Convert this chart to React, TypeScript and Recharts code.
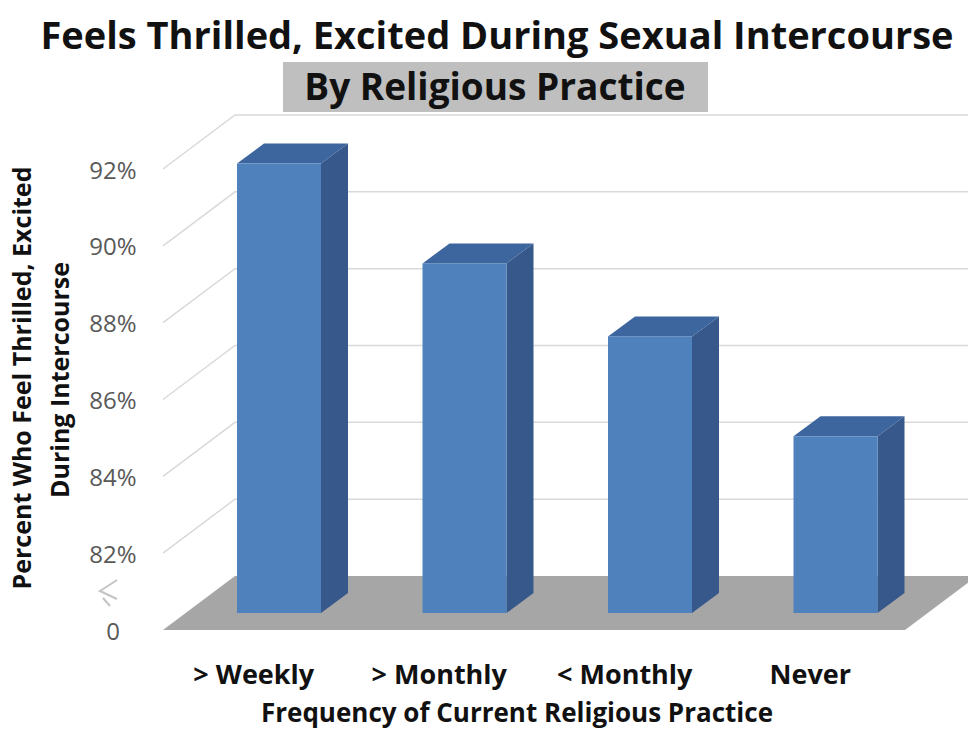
import { Bar, BarChart, CartesianGrid, XAxis, YAxis } from "recharts";

// Share of respondents who feel thrilled/excited, by frequency of religious practice
const categories = ["> Weekly", "> Monthly", "< Monthly", "Never"];
const thrilledPct = [91.7, 89.1, 87.2, 84.6];

// Axis starts at a broken baseline shown as "0"
const axisFloor = 80;
const yTicks = [80, 82, 84, 86, 88, 90, 92];

const data = categories.map((name, i) => ({ name, value: thrilledPct[i] }));

const FONT = "'Open Sans', 'DejaVu Sans', sans-serif";

// 3D projection: back wall offset, and where the bar front sits within the depth
const WALL_DX = 72;
const WALL_DY = 54;
const BAR_FRONT_DX = 23;
const BAR_FRONT_DY = 17;
const BAR_DX = 27;
const BAR_DY = 20;

const BAR_FRONT = "#4f81bd";
const BAR_SIDE = "#36588a";
const BAR_TOP = "#3d659e";

function Bar3D(props: any) {
  const { x, y, width, height } = props;
  if (width == null || height == null) return null;
  const fx = x + BAR_FRONT_DX;
  const fy = y - BAR_FRONT_DY;
  const r = fx + width;
  const b = fy + height;
  return (
    <g>
      <polygon
        points={`${r},${fy} ${r + BAR_DX},${fy - BAR_DY} ${r + BAR_DX},${b - BAR_DY} ${r},${b}`}
        fill={BAR_SIDE}
      />
      <polygon
        points={`${fx},${fy} ${fx + BAR_DX},${fy - BAR_DY} ${r + BAR_DX},${fy - BAR_DY} ${r},${fy}`}
        fill={BAR_TOP}
      />
      <rect x={fx} y={fy} width={width} height={height} fill={BAR_FRONT} />
    </g>
  );
}

// Horizontal grid: the baseline becomes the grey floor, the rest run up the side wall and along the back
function GridLine(props: any) {
  const { x1, x2, y1, y, height, index } = props;
  const isFloor = y != null && height != null && Math.abs(y1 - (y + height)) < 1;
  if (isFloor) {
    return (
      <polygon
        key={`floor-${index}`}
        points={`${x1},${y1} ${x2},${y1} ${x2 + WALL_DX},${y1 - WALL_DY} ${x1 + WALL_DX},${y1 - WALL_DY}`}
        fill="#a6a6a6"
      />
    );
  }
  return (
    <polyline
      key={`grid-${index}`}
      points={`${x1},${y1} ${x1 + WALL_DX},${y1 - WALL_DY} ${x2 + WALL_DX + 20},${y1 - WALL_DY}`}
      fill="none"
      stroke="#d9d9d9"
      strokeWidth={1.5}
    />
  );
}

function YTick(props: any) {
  const { x, y, payload } = props;
  const cx = x - 42;
  const isFloor = payload.value === axisFloor;
  return (
    <g>
      {isFloor && (
        <g stroke="#c4c4c4" strokeWidth={2} fill="none">
          <polyline points={`${cx + 4},${y - 50} ${cx - 13},${y - 39} ${cx + 4},${y - 31}`} />
          <line x1={cx - 10} y1={y - 32} x2={cx - 3} y2={y - 24} />
        </g>
      )}
      <text
        x={cx}
        y={y}
        textAnchor="middle"
        dominantBaseline="central"
        fontFamily={FONT}
        fontSize={24}
        fill="#595959"
      >
        {isFloor ? "0" : `${payload.value}%`}
      </text>
    </g>
  );
}

function XTick(props: any) {
  const { x, y, payload } = props;
  return (
    <text
      x={x - 2}
      y={y + 35}
      textAnchor="middle"
      dominantBaseline="central"
      fontFamily={FONT}
      fontSize={27}
      fontWeight={700}
      fill="#111"
    >
      {payload.value}
    </text>
  );
}

export default function App() {
  return (
    <div
      style={{
        position: "absolute",
        left: 0,
        top: 0,
        width: 968,
        height: 729,
        background: "#fff",
        overflow: "hidden",
      }}
    >
      <BarChart
        width={968}
        height={729}
        data={data}
        margin={{ top: 169, right: 63, bottom: 0, left: 0 }}
      >
        <CartesianGrid vertical={false} horizontal={GridLine} />
        <XAxis
          dataKey="name"
          axisLine={false}
          tickLine={false}
          height={99}
          tick={XTick}
          interval={0}
        />
        <YAxis
          domain={[axisFloor, 92]}
          ticks={yTicks}
          axisLine={false}
          tickLine={false}
          width={163}
          tick={YTick}
          interval={0}
        />
        <Bar dataKey="value" barSize={84} shape={Bar3D} isAnimationActive={false} />
      </BarChart>

      <svg
        width={968}
        height={729}
        style={{ position: "absolute", left: 0, top: 0, pointerEvents: "none" }}
      >
        <text
          x={497}
          y={49}
          textAnchor="middle"
          fontFamily={FONT}
          fontSize={38}
          fontWeight={700}
          fill="#111"
        >
          Feels Thrilled, Excited During Sexual Intercourse
        </text>
        <rect x={283} y={62} width={425} height={50} fill="#bfbfbf" />
        <text
          x={495}
          y={100}
          textAnchor="middle"
          fontFamily={FONT}
          fontSize={37}
          fontWeight={700}
          fill="#111"
        >
          By Religious Practice
        </text>
        <text
          transform="translate(31 378) rotate(-90)"
          textAnchor="middle"
          fontFamily={FONT}
          fontSize={25}
          fontWeight={700}
          fill="#111"
        >
          Percent Who Feel Thrilled, Excited
        </text>
        <text
          transform="translate(69 380) rotate(-90)"
          textAnchor="middle"
          fontFamily={FONT}
          fontSize={25}
          fontWeight={700}
          fill="#111"
        >
          During Intercourse
        </text>
        <text
          x={517}
          y={722}
          textAnchor="middle"
          fontFamily={FONT}
          fontSize={26}
          fontWeight={700}
          fill="#111"
        >
          Frequency of Current Religious Practice
        </text>
      </svg>
    </div>
  );
}
